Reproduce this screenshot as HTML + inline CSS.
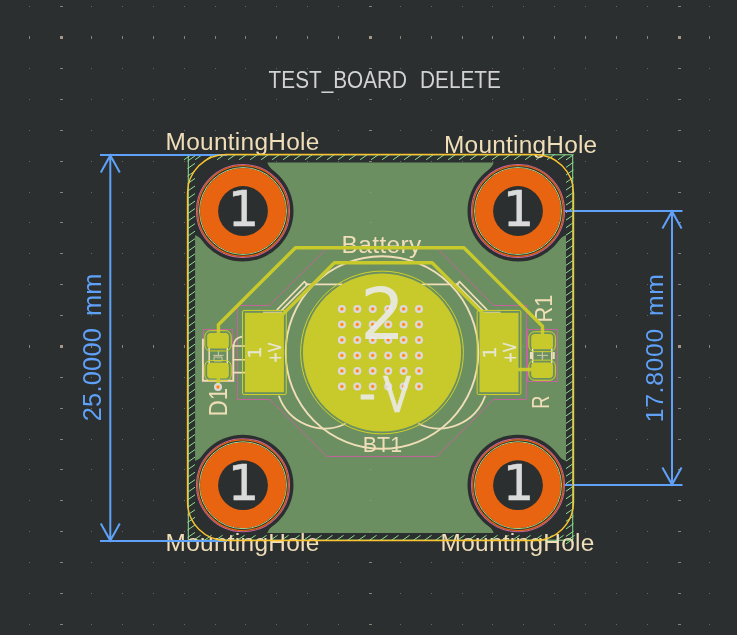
<!DOCTYPE html>
<html><head><meta charset="utf-8"><title>TEST_BOARD DELETE</title>
<style>html,body{margin:0;padding:0;background:#2b2f30;overflow:hidden}svg{display:block;will-change:transform}text{white-space:pre}</style>
</head><body>
<svg width="737" height="635" viewBox="0 0 737 635">
<rect width="737" height="635" fill="#2b2f30"/>
<g shape-rendering="crispEdges" opacity="1">
<path d="M29,6h1v1h-1zM29,68h1v1h-1zM29,99h1v1h-1zM29,130h1v1h-1zM29,161h1v1h-1zM29,192h1v1h-1zM29,222h1v1h-1zM29,253h1v1h-1zM29,284h1v1h-1zM29,315h1v1h-1zM29,377h1v1h-1zM29,408h1v1h-1zM29,439h1v1h-1zM29,469h1v1h-1zM29,500h1v1h-1zM29,531h1v1h-1zM29,562h1v1h-1zM29,593h1v1h-1zM29,624h1v1h-1zM91,6h1v1h-1zM91,68h1v1h-1zM91,99h1v1h-1zM91,130h1v1h-1zM91,161h1v1h-1zM91,192h1v1h-1zM91,222h1v1h-1zM91,253h1v1h-1zM91,284h1v1h-1zM91,315h1v1h-1zM91,377h1v1h-1zM91,408h1v1h-1zM91,439h1v1h-1zM91,469h1v1h-1zM91,500h1v1h-1zM91,531h1v1h-1zM91,562h1v1h-1zM91,593h1v1h-1zM91,624h1v1h-1zM122,6h1v1h-1zM122,68h1v1h-1zM122,99h1v1h-1zM122,130h1v1h-1zM122,161h1v1h-1zM122,192h1v1h-1zM122,222h1v1h-1zM122,253h1v1h-1zM122,284h1v1h-1zM122,315h1v1h-1zM122,377h1v1h-1zM122,408h1v1h-1zM122,439h1v1h-1zM122,469h1v1h-1zM122,500h1v1h-1zM122,531h1v1h-1zM122,562h1v1h-1zM122,593h1v1h-1zM122,624h1v1h-1zM153,6h1v1h-1zM153,68h1v1h-1zM153,99h1v1h-1zM153,130h1v1h-1zM153,161h1v1h-1zM153,192h1v1h-1zM153,222h1v1h-1zM153,253h1v1h-1zM153,284h1v1h-1zM153,315h1v1h-1zM153,377h1v1h-1zM153,408h1v1h-1zM153,439h1v1h-1zM153,469h1v1h-1zM153,500h1v1h-1zM153,531h1v1h-1zM153,562h1v1h-1zM153,593h1v1h-1zM153,624h1v1h-1zM184,6h1v1h-1zM184,68h1v1h-1zM184,99h1v1h-1zM184,130h1v1h-1zM184,161h1v1h-1zM184,192h1v1h-1zM184,222h1v1h-1zM184,253h1v1h-1zM184,284h1v1h-1zM184,315h1v1h-1zM184,377h1v1h-1zM184,408h1v1h-1zM184,439h1v1h-1zM184,469h1v1h-1zM184,500h1v1h-1zM184,531h1v1h-1zM184,562h1v1h-1zM184,593h1v1h-1zM184,624h1v1h-1zM215,6h1v1h-1zM215,68h1v1h-1zM215,99h1v1h-1zM215,130h1v1h-1zM215,161h1v1h-1zM215,192h1v1h-1zM215,222h1v1h-1zM215,253h1v1h-1zM215,284h1v1h-1zM215,315h1v1h-1zM215,377h1v1h-1zM215,408h1v1h-1zM215,439h1v1h-1zM215,469h1v1h-1zM215,500h1v1h-1zM215,531h1v1h-1zM215,562h1v1h-1zM215,593h1v1h-1zM215,624h1v1h-1zM245,6h1v1h-1zM245,68h1v1h-1zM245,99h1v1h-1zM245,130h1v1h-1zM245,161h1v1h-1zM245,192h1v1h-1zM245,222h1v1h-1zM245,253h1v1h-1zM245,284h1v1h-1zM245,315h1v1h-1zM245,377h1v1h-1zM245,408h1v1h-1zM245,439h1v1h-1zM245,469h1v1h-1zM245,500h1v1h-1zM245,531h1v1h-1zM245,562h1v1h-1zM245,593h1v1h-1zM245,624h1v1h-1zM276,6h1v1h-1zM276,68h1v1h-1zM276,99h1v1h-1zM276,130h1v1h-1zM276,161h1v1h-1zM276,192h1v1h-1zM276,222h1v1h-1zM276,253h1v1h-1zM276,284h1v1h-1zM276,315h1v1h-1zM276,377h1v1h-1zM276,408h1v1h-1zM276,439h1v1h-1zM276,469h1v1h-1zM276,500h1v1h-1zM276,531h1v1h-1zM276,562h1v1h-1zM276,593h1v1h-1zM276,624h1v1h-1zM307,6h1v1h-1zM307,68h1v1h-1zM307,99h1v1h-1zM307,130h1v1h-1zM307,161h1v1h-1zM307,192h1v1h-1zM307,222h1v1h-1zM307,253h1v1h-1zM307,284h1v1h-1zM307,315h1v1h-1zM307,377h1v1h-1zM307,408h1v1h-1zM307,439h1v1h-1zM307,469h1v1h-1zM307,500h1v1h-1zM307,531h1v1h-1zM307,562h1v1h-1zM307,593h1v1h-1zM307,624h1v1h-1zM338,6h1v1h-1zM338,68h1v1h-1zM338,99h1v1h-1zM338,130h1v1h-1zM338,161h1v1h-1zM338,192h1v1h-1zM338,222h1v1h-1zM338,253h1v1h-1zM338,284h1v1h-1zM338,315h1v1h-1zM338,377h1v1h-1zM338,408h1v1h-1zM338,439h1v1h-1zM338,469h1v1h-1zM338,500h1v1h-1zM338,531h1v1h-1zM338,562h1v1h-1zM338,593h1v1h-1zM338,624h1v1h-1zM400,6h1v1h-1zM400,68h1v1h-1zM400,99h1v1h-1zM400,130h1v1h-1zM400,161h1v1h-1zM400,192h1v1h-1zM400,222h1v1h-1zM400,253h1v1h-1zM400,284h1v1h-1zM400,315h1v1h-1zM400,377h1v1h-1zM400,408h1v1h-1zM400,439h1v1h-1zM400,469h1v1h-1zM400,500h1v1h-1zM400,531h1v1h-1zM400,562h1v1h-1zM400,593h1v1h-1zM400,624h1v1h-1zM431,6h1v1h-1zM431,68h1v1h-1zM431,99h1v1h-1zM431,130h1v1h-1zM431,161h1v1h-1zM431,192h1v1h-1zM431,222h1v1h-1zM431,253h1v1h-1zM431,284h1v1h-1zM431,315h1v1h-1zM431,377h1v1h-1zM431,408h1v1h-1zM431,439h1v1h-1zM431,469h1v1h-1zM431,500h1v1h-1zM431,531h1v1h-1zM431,562h1v1h-1zM431,593h1v1h-1zM431,624h1v1h-1zM462,6h1v1h-1zM462,68h1v1h-1zM462,99h1v1h-1zM462,130h1v1h-1zM462,161h1v1h-1zM462,192h1v1h-1zM462,222h1v1h-1zM462,253h1v1h-1zM462,284h1v1h-1zM462,315h1v1h-1zM462,377h1v1h-1zM462,408h1v1h-1zM462,439h1v1h-1zM462,469h1v1h-1zM462,500h1v1h-1zM462,531h1v1h-1zM462,562h1v1h-1zM462,593h1v1h-1zM462,624h1v1h-1zM492,6h1v1h-1zM492,68h1v1h-1zM492,99h1v1h-1zM492,130h1v1h-1zM492,161h1v1h-1zM492,192h1v1h-1zM492,222h1v1h-1zM492,253h1v1h-1zM492,284h1v1h-1zM492,315h1v1h-1zM492,377h1v1h-1zM492,408h1v1h-1zM492,439h1v1h-1zM492,469h1v1h-1zM492,500h1v1h-1zM492,531h1v1h-1zM492,562h1v1h-1zM492,593h1v1h-1zM492,624h1v1h-1zM523,6h1v1h-1zM523,68h1v1h-1zM523,99h1v1h-1zM523,130h1v1h-1zM523,161h1v1h-1zM523,192h1v1h-1zM523,222h1v1h-1zM523,253h1v1h-1zM523,284h1v1h-1zM523,315h1v1h-1zM523,377h1v1h-1zM523,408h1v1h-1zM523,439h1v1h-1zM523,469h1v1h-1zM523,500h1v1h-1zM523,531h1v1h-1zM523,562h1v1h-1zM523,593h1v1h-1zM523,624h1v1h-1zM554,6h1v1h-1zM554,68h1v1h-1zM554,99h1v1h-1zM554,130h1v1h-1zM554,161h1v1h-1zM554,192h1v1h-1zM554,222h1v1h-1zM554,253h1v1h-1zM554,284h1v1h-1zM554,315h1v1h-1zM554,377h1v1h-1zM554,408h1v1h-1zM554,439h1v1h-1zM554,469h1v1h-1zM554,500h1v1h-1zM554,531h1v1h-1zM554,562h1v1h-1zM554,593h1v1h-1zM554,624h1v1h-1zM585,6h1v1h-1zM585,68h1v1h-1zM585,99h1v1h-1zM585,130h1v1h-1zM585,161h1v1h-1zM585,192h1v1h-1zM585,222h1v1h-1zM585,253h1v1h-1zM585,284h1v1h-1zM585,315h1v1h-1zM585,377h1v1h-1zM585,408h1v1h-1zM585,439h1v1h-1zM585,469h1v1h-1zM585,500h1v1h-1zM585,531h1v1h-1zM585,562h1v1h-1zM585,593h1v1h-1zM585,624h1v1h-1zM616,6h1v1h-1zM616,68h1v1h-1zM616,99h1v1h-1zM616,130h1v1h-1zM616,161h1v1h-1zM616,192h1v1h-1zM616,222h1v1h-1zM616,253h1v1h-1zM616,284h1v1h-1zM616,315h1v1h-1zM616,377h1v1h-1zM616,408h1v1h-1zM616,439h1v1h-1zM616,469h1v1h-1zM616,500h1v1h-1zM616,531h1v1h-1zM616,562h1v1h-1zM616,593h1v1h-1zM616,624h1v1h-1zM647,6h1v1h-1zM647,68h1v1h-1zM647,99h1v1h-1zM647,130h1v1h-1zM647,161h1v1h-1zM647,192h1v1h-1zM647,222h1v1h-1zM647,253h1v1h-1zM647,284h1v1h-1zM647,315h1v1h-1zM647,377h1v1h-1zM647,408h1v1h-1zM647,439h1v1h-1zM647,469h1v1h-1zM647,500h1v1h-1zM647,531h1v1h-1zM647,562h1v1h-1zM647,593h1v1h-1zM647,624h1v1h-1zM709,6h1v1h-1zM709,68h1v1h-1zM709,99h1v1h-1zM709,130h1v1h-1zM709,161h1v1h-1zM709,192h1v1h-1zM709,222h1v1h-1zM709,253h1v1h-1zM709,284h1v1h-1zM709,315h1v1h-1zM709,377h1v1h-1zM709,408h1v1h-1zM709,439h1v1h-1zM709,469h1v1h-1zM709,500h1v1h-1zM709,531h1v1h-1zM709,562h1v1h-1zM709,593h1v1h-1zM709,624h1v1h-1z" fill="#b0a090" fill-opacity="0.38"/>
<path d="M29,36h1v3h-1zM29,345h1v3h-1zM60,6h3v1h-3zM60,68h3v1h-3zM60,99h3v1h-3zM60,130h3v1h-3zM60,161h3v1h-3zM60,192h3v1h-3zM60,222h3v1h-3zM60,253h3v1h-3zM60,284h3v1h-3zM60,315h3v1h-3zM60,377h3v1h-3zM60,408h3v1h-3zM60,439h3v1h-3zM60,469h3v1h-3zM60,500h3v1h-3zM60,531h3v1h-3zM60,562h3v1h-3zM60,593h3v1h-3zM60,624h3v1h-3zM91,36h1v3h-1zM91,345h1v3h-1zM122,36h1v3h-1zM122,345h1v3h-1zM153,36h1v3h-1zM153,345h1v3h-1zM184,36h1v3h-1zM184,345h1v3h-1zM215,36h1v3h-1zM215,345h1v3h-1zM245,36h1v3h-1zM245,345h1v3h-1zM276,36h1v3h-1zM276,345h1v3h-1zM307,36h1v3h-1zM307,345h1v3h-1zM338,36h1v3h-1zM338,345h1v3h-1zM369,6h3v1h-3zM369,68h3v1h-3zM369,99h3v1h-3zM369,130h3v1h-3zM369,161h3v1h-3zM369,192h3v1h-3zM369,222h3v1h-3zM369,253h3v1h-3zM369,284h3v1h-3zM369,315h3v1h-3zM369,377h3v1h-3zM369,408h3v1h-3zM369,439h3v1h-3zM369,469h3v1h-3zM369,500h3v1h-3zM369,531h3v1h-3zM369,562h3v1h-3zM369,593h3v1h-3zM369,624h3v1h-3zM400,36h1v3h-1zM400,345h1v3h-1zM431,36h1v3h-1zM431,345h1v3h-1zM462,36h1v3h-1zM462,345h1v3h-1zM492,36h1v3h-1zM492,345h1v3h-1zM523,36h1v3h-1zM523,345h1v3h-1zM554,36h1v3h-1zM554,345h1v3h-1zM585,36h1v3h-1zM585,345h1v3h-1zM616,36h1v3h-1zM616,345h1v3h-1zM647,36h1v3h-1zM647,345h1v3h-1zM678,6h3v1h-3zM678,68h3v1h-3zM678,99h3v1h-3zM678,130h3v1h-3zM678,161h3v1h-3zM678,192h3v1h-3zM678,222h3v1h-3zM678,253h3v1h-3zM678,284h3v1h-3zM678,315h3v1h-3zM678,377h3v1h-3zM678,408h3v1h-3zM678,439h3v1h-3zM678,469h3v1h-3zM678,500h3v1h-3zM678,531h3v1h-3zM678,562h3v1h-3zM678,593h3v1h-3zM678,624h3v1h-3zM709,36h1v3h-1zM709,345h1v3h-1z" fill="#b0a090" fill-opacity="0.6"/>
<path d="M60,36h3v3h-3zM60,345h3v3h-3zM369,36h3v3h-3zM369,345h3v3h-3zM678,36h3v3h-3zM678,345h3v3h-3z" fill="#b0a090" fill-opacity="0.85"/>
</g>
<rect x="195.1" y="162.6" width="370.9" height="370.5" rx="30.9" fill="#6b8f61"/>
<g shape-rendering="crispEdges" opacity="0.5">
<path d="M29,6h1v1h-1zM29,68h1v1h-1zM29,99h1v1h-1zM29,130h1v1h-1zM29,161h1v1h-1zM29,192h1v1h-1zM29,222h1v1h-1zM29,253h1v1h-1zM29,284h1v1h-1zM29,315h1v1h-1zM29,377h1v1h-1zM29,408h1v1h-1zM29,439h1v1h-1zM29,469h1v1h-1zM29,500h1v1h-1zM29,531h1v1h-1zM29,562h1v1h-1zM29,593h1v1h-1zM29,624h1v1h-1zM91,6h1v1h-1zM91,68h1v1h-1zM91,99h1v1h-1zM91,130h1v1h-1zM91,161h1v1h-1zM91,192h1v1h-1zM91,222h1v1h-1zM91,253h1v1h-1zM91,284h1v1h-1zM91,315h1v1h-1zM91,377h1v1h-1zM91,408h1v1h-1zM91,439h1v1h-1zM91,469h1v1h-1zM91,500h1v1h-1zM91,531h1v1h-1zM91,562h1v1h-1zM91,593h1v1h-1zM91,624h1v1h-1zM122,6h1v1h-1zM122,68h1v1h-1zM122,99h1v1h-1zM122,130h1v1h-1zM122,161h1v1h-1zM122,192h1v1h-1zM122,222h1v1h-1zM122,253h1v1h-1zM122,284h1v1h-1zM122,315h1v1h-1zM122,377h1v1h-1zM122,408h1v1h-1zM122,439h1v1h-1zM122,469h1v1h-1zM122,500h1v1h-1zM122,531h1v1h-1zM122,562h1v1h-1zM122,593h1v1h-1zM122,624h1v1h-1zM153,6h1v1h-1zM153,68h1v1h-1zM153,99h1v1h-1zM153,130h1v1h-1zM153,161h1v1h-1zM153,192h1v1h-1zM153,222h1v1h-1zM153,253h1v1h-1zM153,284h1v1h-1zM153,315h1v1h-1zM153,377h1v1h-1zM153,408h1v1h-1zM153,439h1v1h-1zM153,469h1v1h-1zM153,500h1v1h-1zM153,531h1v1h-1zM153,562h1v1h-1zM153,593h1v1h-1zM153,624h1v1h-1zM184,6h1v1h-1zM184,68h1v1h-1zM184,99h1v1h-1zM184,130h1v1h-1zM184,161h1v1h-1zM184,192h1v1h-1zM184,222h1v1h-1zM184,253h1v1h-1zM184,284h1v1h-1zM184,315h1v1h-1zM184,377h1v1h-1zM184,408h1v1h-1zM184,439h1v1h-1zM184,469h1v1h-1zM184,500h1v1h-1zM184,531h1v1h-1zM184,562h1v1h-1zM184,593h1v1h-1zM184,624h1v1h-1zM215,6h1v1h-1zM215,68h1v1h-1zM215,99h1v1h-1zM215,130h1v1h-1zM215,161h1v1h-1zM215,192h1v1h-1zM215,222h1v1h-1zM215,253h1v1h-1zM215,284h1v1h-1zM215,315h1v1h-1zM215,377h1v1h-1zM215,408h1v1h-1zM215,439h1v1h-1zM215,469h1v1h-1zM215,500h1v1h-1zM215,531h1v1h-1zM215,562h1v1h-1zM215,593h1v1h-1zM215,624h1v1h-1zM245,6h1v1h-1zM245,68h1v1h-1zM245,99h1v1h-1zM245,130h1v1h-1zM245,161h1v1h-1zM245,192h1v1h-1zM245,222h1v1h-1zM245,253h1v1h-1zM245,284h1v1h-1zM245,315h1v1h-1zM245,377h1v1h-1zM245,408h1v1h-1zM245,439h1v1h-1zM245,469h1v1h-1zM245,500h1v1h-1zM245,531h1v1h-1zM245,562h1v1h-1zM245,593h1v1h-1zM245,624h1v1h-1zM276,6h1v1h-1zM276,68h1v1h-1zM276,99h1v1h-1zM276,130h1v1h-1zM276,161h1v1h-1zM276,192h1v1h-1zM276,222h1v1h-1zM276,253h1v1h-1zM276,284h1v1h-1zM276,315h1v1h-1zM276,377h1v1h-1zM276,408h1v1h-1zM276,439h1v1h-1zM276,469h1v1h-1zM276,500h1v1h-1zM276,531h1v1h-1zM276,562h1v1h-1zM276,593h1v1h-1zM276,624h1v1h-1zM307,6h1v1h-1zM307,68h1v1h-1zM307,99h1v1h-1zM307,130h1v1h-1zM307,161h1v1h-1zM307,192h1v1h-1zM307,222h1v1h-1zM307,253h1v1h-1zM307,284h1v1h-1zM307,315h1v1h-1zM307,377h1v1h-1zM307,408h1v1h-1zM307,439h1v1h-1zM307,469h1v1h-1zM307,500h1v1h-1zM307,531h1v1h-1zM307,562h1v1h-1zM307,593h1v1h-1zM307,624h1v1h-1zM338,6h1v1h-1zM338,68h1v1h-1zM338,99h1v1h-1zM338,130h1v1h-1zM338,161h1v1h-1zM338,192h1v1h-1zM338,222h1v1h-1zM338,253h1v1h-1zM338,284h1v1h-1zM338,315h1v1h-1zM338,377h1v1h-1zM338,408h1v1h-1zM338,439h1v1h-1zM338,469h1v1h-1zM338,500h1v1h-1zM338,531h1v1h-1zM338,562h1v1h-1zM338,593h1v1h-1zM338,624h1v1h-1zM400,6h1v1h-1zM400,68h1v1h-1zM400,99h1v1h-1zM400,130h1v1h-1zM400,161h1v1h-1zM400,192h1v1h-1zM400,222h1v1h-1zM400,253h1v1h-1zM400,284h1v1h-1zM400,315h1v1h-1zM400,377h1v1h-1zM400,408h1v1h-1zM400,439h1v1h-1zM400,469h1v1h-1zM400,500h1v1h-1zM400,531h1v1h-1zM400,562h1v1h-1zM400,593h1v1h-1zM400,624h1v1h-1zM431,6h1v1h-1zM431,68h1v1h-1zM431,99h1v1h-1zM431,130h1v1h-1zM431,161h1v1h-1zM431,192h1v1h-1zM431,222h1v1h-1zM431,253h1v1h-1zM431,284h1v1h-1zM431,315h1v1h-1zM431,377h1v1h-1zM431,408h1v1h-1zM431,439h1v1h-1zM431,469h1v1h-1zM431,500h1v1h-1zM431,531h1v1h-1zM431,562h1v1h-1zM431,593h1v1h-1zM431,624h1v1h-1zM462,6h1v1h-1zM462,68h1v1h-1zM462,99h1v1h-1zM462,130h1v1h-1zM462,161h1v1h-1zM462,192h1v1h-1zM462,222h1v1h-1zM462,253h1v1h-1zM462,284h1v1h-1zM462,315h1v1h-1zM462,377h1v1h-1zM462,408h1v1h-1zM462,439h1v1h-1zM462,469h1v1h-1zM462,500h1v1h-1zM462,531h1v1h-1zM462,562h1v1h-1zM462,593h1v1h-1zM462,624h1v1h-1zM492,6h1v1h-1zM492,68h1v1h-1zM492,99h1v1h-1zM492,130h1v1h-1zM492,161h1v1h-1zM492,192h1v1h-1zM492,222h1v1h-1zM492,253h1v1h-1zM492,284h1v1h-1zM492,315h1v1h-1zM492,377h1v1h-1zM492,408h1v1h-1zM492,439h1v1h-1zM492,469h1v1h-1zM492,500h1v1h-1zM492,531h1v1h-1zM492,562h1v1h-1zM492,593h1v1h-1zM492,624h1v1h-1zM523,6h1v1h-1zM523,68h1v1h-1zM523,99h1v1h-1zM523,130h1v1h-1zM523,161h1v1h-1zM523,192h1v1h-1zM523,222h1v1h-1zM523,253h1v1h-1zM523,284h1v1h-1zM523,315h1v1h-1zM523,377h1v1h-1zM523,408h1v1h-1zM523,439h1v1h-1zM523,469h1v1h-1zM523,500h1v1h-1zM523,531h1v1h-1zM523,562h1v1h-1zM523,593h1v1h-1zM523,624h1v1h-1zM554,6h1v1h-1zM554,68h1v1h-1zM554,99h1v1h-1zM554,130h1v1h-1zM554,161h1v1h-1zM554,192h1v1h-1zM554,222h1v1h-1zM554,253h1v1h-1zM554,284h1v1h-1zM554,315h1v1h-1zM554,377h1v1h-1zM554,408h1v1h-1zM554,439h1v1h-1zM554,469h1v1h-1zM554,500h1v1h-1zM554,531h1v1h-1zM554,562h1v1h-1zM554,593h1v1h-1zM554,624h1v1h-1zM585,6h1v1h-1zM585,68h1v1h-1zM585,99h1v1h-1zM585,130h1v1h-1zM585,161h1v1h-1zM585,192h1v1h-1zM585,222h1v1h-1zM585,253h1v1h-1zM585,284h1v1h-1zM585,315h1v1h-1zM585,377h1v1h-1zM585,408h1v1h-1zM585,439h1v1h-1zM585,469h1v1h-1zM585,500h1v1h-1zM585,531h1v1h-1zM585,562h1v1h-1zM585,593h1v1h-1zM585,624h1v1h-1zM616,6h1v1h-1zM616,68h1v1h-1zM616,99h1v1h-1zM616,130h1v1h-1zM616,161h1v1h-1zM616,192h1v1h-1zM616,222h1v1h-1zM616,253h1v1h-1zM616,284h1v1h-1zM616,315h1v1h-1zM616,377h1v1h-1zM616,408h1v1h-1zM616,439h1v1h-1zM616,469h1v1h-1zM616,500h1v1h-1zM616,531h1v1h-1zM616,562h1v1h-1zM616,593h1v1h-1zM616,624h1v1h-1zM647,6h1v1h-1zM647,68h1v1h-1zM647,99h1v1h-1zM647,130h1v1h-1zM647,161h1v1h-1zM647,192h1v1h-1zM647,222h1v1h-1zM647,253h1v1h-1zM647,284h1v1h-1zM647,315h1v1h-1zM647,377h1v1h-1zM647,408h1v1h-1zM647,439h1v1h-1zM647,469h1v1h-1zM647,500h1v1h-1zM647,531h1v1h-1zM647,562h1v1h-1zM647,593h1v1h-1zM647,624h1v1h-1zM709,6h1v1h-1zM709,68h1v1h-1zM709,99h1v1h-1zM709,130h1v1h-1zM709,161h1v1h-1zM709,192h1v1h-1zM709,222h1v1h-1zM709,253h1v1h-1zM709,284h1v1h-1zM709,315h1v1h-1zM709,377h1v1h-1zM709,408h1v1h-1zM709,439h1v1h-1zM709,469h1v1h-1zM709,500h1v1h-1zM709,531h1v1h-1zM709,562h1v1h-1zM709,593h1v1h-1zM709,624h1v1h-1z" fill="#b0a090" fill-opacity="0.38"/>
<path d="M29,36h1v3h-1zM29,345h1v3h-1zM60,6h3v1h-3zM60,68h3v1h-3zM60,99h3v1h-3zM60,130h3v1h-3zM60,161h3v1h-3zM60,192h3v1h-3zM60,222h3v1h-3zM60,253h3v1h-3zM60,284h3v1h-3zM60,315h3v1h-3zM60,377h3v1h-3zM60,408h3v1h-3zM60,439h3v1h-3zM60,469h3v1h-3zM60,500h3v1h-3zM60,531h3v1h-3zM60,562h3v1h-3zM60,593h3v1h-3zM60,624h3v1h-3zM91,36h1v3h-1zM91,345h1v3h-1zM122,36h1v3h-1zM122,345h1v3h-1zM153,36h1v3h-1zM153,345h1v3h-1zM184,36h1v3h-1zM184,345h1v3h-1zM215,36h1v3h-1zM215,345h1v3h-1zM245,36h1v3h-1zM245,345h1v3h-1zM276,36h1v3h-1zM276,345h1v3h-1zM307,36h1v3h-1zM307,345h1v3h-1zM338,36h1v3h-1zM338,345h1v3h-1zM369,6h3v1h-3zM369,68h3v1h-3zM369,99h3v1h-3zM369,130h3v1h-3zM369,161h3v1h-3zM369,192h3v1h-3zM369,222h3v1h-3zM369,253h3v1h-3zM369,284h3v1h-3zM369,315h3v1h-3zM369,377h3v1h-3zM369,408h3v1h-3zM369,439h3v1h-3zM369,469h3v1h-3zM369,500h3v1h-3zM369,531h3v1h-3zM369,562h3v1h-3zM369,593h3v1h-3zM369,624h3v1h-3zM400,36h1v3h-1zM400,345h1v3h-1zM431,36h1v3h-1zM431,345h1v3h-1zM462,36h1v3h-1zM462,345h1v3h-1zM492,36h1v3h-1zM492,345h1v3h-1zM523,36h1v3h-1zM523,345h1v3h-1zM554,36h1v3h-1zM554,345h1v3h-1zM585,36h1v3h-1zM585,345h1v3h-1zM616,36h1v3h-1zM616,345h1v3h-1zM647,36h1v3h-1zM647,345h1v3h-1zM678,6h3v1h-3zM678,68h3v1h-3zM678,99h3v1h-3zM678,130h3v1h-3zM678,161h3v1h-3zM678,192h3v1h-3zM678,222h3v1h-3zM678,253h3v1h-3zM678,284h3v1h-3zM678,315h3v1h-3zM678,377h3v1h-3zM678,408h3v1h-3zM678,439h3v1h-3zM678,469h3v1h-3zM678,500h3v1h-3zM678,531h3v1h-3zM678,562h3v1h-3zM678,593h3v1h-3zM678,624h3v1h-3zM709,36h1v3h-1zM709,345h1v3h-1z" fill="#b0a090" fill-opacity="0.6"/>
<path d="M60,36h3v3h-3zM60,345h3v3h-3zM369,36h3v3h-3zM369,345h3v3h-3zM678,36h3v3h-3zM678,345h3v3h-3z" fill="#b0a090" fill-opacity="0.85"/>
</g>
<rect x="193.1" y="160.6" width="49.900000000000006" height="50.400000000000006" fill="#2b2f30"/>
<circle cx="243.0" cy="211.0" r="50.5" fill="#2b2f30"/>
<path d="M255.0,161.6 L267.3,161.6 L267.3,162.6 Q268.5,166.6 274.0,171.6 L263.0,171.6Z" fill="#2b2f30"/>
<path d="M194.1,223.0 L194.1,235.3 L195.1,235.3 Q199.1,236.5 204.1,242.0 L204.1,231.0Z" fill="#2b2f30"/>
<rect x="518.0" y="160.6" width="50.0" height="50.400000000000006" fill="#2b2f30"/>
<circle cx="518.0" cy="211.0" r="50.5" fill="#2b2f30"/>
<path d="M506.0,161.6 L493.7,161.6 L493.7,162.6 Q492.5,166.6 487.0,171.6 L498.0,171.6Z" fill="#2b2f30"/>
<path d="M567.0,223.0 L567.0,235.3 L566.0,235.3 Q562.0,236.5 557.0,242.0 L557.0,231.0Z" fill="#2b2f30"/>
<rect x="193.1" y="485.2" width="49.900000000000006" height="49.900000000000034" fill="#2b2f30"/>
<circle cx="243.0" cy="485.2" r="50.5" fill="#2b2f30"/>
<path d="M255.0,534.1 L267.3,534.1 L267.3,533.1 Q268.5,529.1 274.0,524.1 L263.0,524.1Z" fill="#2b2f30"/>
<path d="M194.1,473.2 L194.1,460.9 L195.1,460.9 Q199.1,459.7 204.1,454.2 L204.1,465.2Z" fill="#2b2f30"/>
<rect x="518.0" y="485.2" width="50.0" height="49.900000000000034" fill="#2b2f30"/>
<circle cx="518.0" cy="485.2" r="50.5" fill="#2b2f30"/>
<path d="M506.0,534.1 L493.7,534.1 L493.7,533.1 Q492.5,529.1 487.0,524.1 L498.0,524.1Z" fill="#2b2f30"/>
<path d="M567.0,473.2 L567.0,460.9 L566.0,460.9 Q562.0,459.7 557.0,454.2 L557.0,465.2Z" fill="#2b2f30"/>
<g stroke="#8fe08f" stroke-width="1" fill="none">
<rect x="188.3" y="154.8" width="384.4" height="385.4"/>
<path d="M187.5,161.1l7.5,-5.2M187.5,168.6l7.5,-5.2M187.5,176.2l7.5,-5.2M187.5,183.7l7.5,-5.2M187.5,191.2l7.5,-5.2M187.5,198.8l7.5,-5.2M187.5,206.3l7.5,-5.2M187.5,213.8l7.5,-5.2M187.5,221.3l7.5,-5.2M187.5,228.9l7.5,-5.2M187.5,236.4l7.5,-5.2M187.5,243.9l7.5,-5.2M187.5,251.5l7.5,-5.2M187.5,259.0l7.5,-5.2M187.5,266.5l7.5,-5.2M187.5,274.1l7.5,-5.2M187.5,281.6l7.5,-5.2M187.5,289.1l7.5,-5.2M187.5,296.6l7.5,-5.2M187.5,304.2l7.5,-5.2M187.5,311.7l7.5,-5.2M187.5,319.2l7.5,-5.2M187.5,326.8l7.5,-5.2M187.5,334.3l7.5,-5.2M187.5,341.8l7.5,-5.2M187.5,349.4l7.5,-5.2M187.5,356.9l7.5,-5.2M187.5,364.4l7.5,-5.2M187.5,371.9l7.5,-5.2M187.5,379.5l7.5,-5.2M187.5,387.0l7.5,-5.2M187.5,394.5l7.5,-5.2M187.5,402.1l7.5,-5.2M187.5,409.6l7.5,-5.2M187.5,417.1l7.5,-5.2M187.5,424.7l7.5,-5.2M187.5,432.2l7.5,-5.2M187.5,439.7l7.5,-5.2M187.5,447.2l7.5,-5.2M187.5,454.8l7.5,-5.2M187.5,462.3l7.5,-5.2M187.5,469.8l7.5,-5.2M187.5,477.4l7.5,-5.2M187.5,484.9l7.5,-5.2M187.5,492.4l7.5,-5.2M187.5,500.0l7.5,-5.2M187.5,507.5l7.5,-5.2M187.5,515.0l7.5,-5.2M187.5,522.5l7.5,-5.2M187.5,530.1l7.5,-5.2M187.5,537.6l7.5,-5.2M573.5,154.7l-7.5,5.2M573.5,162.2l-7.5,5.2M573.5,169.8l-7.5,5.2M573.5,177.3l-7.5,5.2M573.5,184.8l-7.5,5.2M573.5,192.4l-7.5,5.2M573.5,199.9l-7.5,5.2M573.5,207.4l-7.5,5.2M573.5,214.9l-7.5,5.2M573.5,222.5l-7.5,5.2M573.5,230.0l-7.5,5.2M573.5,237.5l-7.5,5.2M573.5,245.1l-7.5,5.2M573.5,252.6l-7.5,5.2M573.5,260.1l-7.5,5.2M573.5,267.7l-7.5,5.2M573.5,275.2l-7.5,5.2M573.5,282.7l-7.5,5.2M573.5,290.2l-7.5,5.2M573.5,297.8l-7.5,5.2M573.5,305.3l-7.5,5.2M573.5,312.8l-7.5,5.2M573.5,320.4l-7.5,5.2M573.5,327.9l-7.5,5.2M573.5,335.4l-7.5,5.2M573.5,343.0l-7.5,5.2M573.5,350.5l-7.5,5.2M573.5,358.0l-7.5,5.2M573.5,365.5l-7.5,5.2M573.5,373.1l-7.5,5.2M573.5,380.6l-7.5,5.2M573.5,388.1l-7.5,5.2M573.5,395.7l-7.5,5.2M573.5,403.2l-7.5,5.2M573.5,410.7l-7.5,5.2M573.5,418.2l-7.5,5.2M573.5,425.8l-7.5,5.2M573.5,433.3l-7.5,5.2M573.5,440.8l-7.5,5.2M573.5,448.4l-7.5,5.2M573.5,455.9l-7.5,5.2M573.5,463.4l-7.5,5.2M573.5,471.0l-7.5,5.2M573.5,478.5l-7.5,5.2M573.5,486.0l-7.5,5.2M573.5,493.6l-7.5,5.2M573.5,501.1l-7.5,5.2M573.5,508.6l-7.5,5.2M573.5,516.1l-7.5,5.2M573.5,523.7l-7.5,5.2M573.5,531.2l-7.5,5.2M573.5,538.7l-7.5,5.2M191.6,154.5l-7.5,5.2M202.6,154.5l-7.5,5.2M213.6,154.5l-7.5,5.2M224.6,154.5l-7.5,5.2M235.6,154.5l-7.5,5.2M246.6,154.5l-7.5,5.2M257.6,154.5l-7.5,5.2M268.6,154.5l-7.5,5.2M279.6,154.5l-7.5,5.2M290.6,154.5l-7.5,5.2M301.6,154.5l-7.5,5.2M312.6,154.5l-7.5,5.2M323.6,154.5l-7.5,5.2M334.6,154.5l-7.5,5.2M345.6,154.5l-7.5,5.2M356.6,154.5l-7.5,5.2M367.6,154.5l-7.5,5.2M378.6,154.5l-7.5,5.2M389.6,154.5l-7.5,5.2M400.6,154.5l-7.5,5.2M411.6,154.5l-7.5,5.2M422.6,154.5l-7.5,5.2M433.6,154.5l-7.5,5.2M444.6,154.5l-7.5,5.2M455.6,154.5l-7.5,5.2M466.6,154.5l-7.5,5.2M477.6,154.5l-7.5,5.2M488.6,154.5l-7.5,5.2M499.6,154.5l-7.5,5.2M510.6,154.5l-7.5,5.2M521.6,154.5l-7.5,5.2M532.6,154.5l-7.5,5.2M543.6,154.5l-7.5,5.2M554.6,154.5l-7.5,5.2M565.6,154.5l-7.5,5.2M193.1,540.5l7.5,-5.2M204.1,540.5l7.5,-5.2M215.1,540.5l7.5,-5.2M226.1,540.5l7.5,-5.2M237.1,540.5l7.5,-5.2M248.1,540.5l7.5,-5.2M259.1,540.5l7.5,-5.2M270.1,540.5l7.5,-5.2M281.1,540.5l7.5,-5.2M292.1,540.5l7.5,-5.2M303.1,540.5l7.5,-5.2M314.1,540.5l7.5,-5.2M325.1,540.5l7.5,-5.2M336.1,540.5l7.5,-5.2M347.1,540.5l7.5,-5.2M358.1,540.5l7.5,-5.2M369.1,540.5l7.5,-5.2M380.1,540.5l7.5,-5.2M391.1,540.5l7.5,-5.2M402.1,540.5l7.5,-5.2M413.1,540.5l7.5,-5.2M424.1,540.5l7.5,-5.2M435.1,540.5l7.5,-5.2M446.1,540.5l7.5,-5.2M457.1,540.5l7.5,-5.2M468.1,540.5l7.5,-5.2M479.1,540.5l7.5,-5.2M490.1,540.5l7.5,-5.2M501.1,540.5l7.5,-5.2M512.1,540.5l7.5,-5.2M523.1,540.5l7.5,-5.2M534.1,540.5l7.5,-5.2M545.1,540.5l7.5,-5.2M556.1,540.5l7.5,-5.2M567.1,540.5l7.5,-5.2"/>
</g>
<g stroke="#c4649c" stroke-width="1" fill="none">
<path d="M237.5,305.5 L269.6,305.5 L326.6,248.6 L437.4,248.6 L493.6,305.5 L526.5,305.5 L526.5,399.5 L493.6,399.5 L437.0,456.4 L327.0,456.4 L270.0,399.5 L237.5,399.5Z"/>
<rect x="203.5" y="329.5" width="29" height="52"/>
<rect x="527.5" y="329.5" width="30" height="52"/>
</g>
<g stroke="#f0deb8" stroke-width="1.7" fill="none" stroke-linecap="round">
<circle cx="382.0" cy="352.5" r="96.3" stroke-width="1.9"/>
<path d="M306,284.3H342 M422,284.3H458"/>
<path d="M486.8,309.6L459.6,281.6L456.6,284.6L482.4,310.4"/>
<path d="M485.0,396.4A48.7,48.7 0 0 1 419.0,424.0"/>
<path d="M277.2,309.6L304.4,281.6L307.4,284.6L281.6,310.4"/>
<path d="M279.0,396.4A48.7,48.7 0 0 0 345.0,424.0"/>
<path d="M202.9,339.5V380.8H233.3V345" stroke-width="1.9"/>
<path d="M233.3,346H245 M233.3,359.8H245 M233.3,372.6H245 M233.6,346Q234,338 242,336.6" stroke-width="1.6"/>
<path d="M531,352V359 M553.6,352V359" stroke-width="2.2" stroke-linecap="butt"/>
</g>
<g stroke="#f0deb8" stroke-width="1.5" fill="none">
<path d="M209.2,347V364 M227.3,347V364 M532.7,348V363.5 M551.7,348V363.5"/>
<path d="M263,312.3H282 M482,312.3H500.5" stroke-width="1.1"/>
</g>
<g stroke="#f0deb8" stroke-width="0.9" fill="none" opacity="0.85">
<path d="M213.3,355.4H223.6 M218.4,351V355.4 M214,357H222V361H214Z"/>
<path d="M537,355.4H548 M542.4,351V360"/>
</g>
<text transform="translate(343.50,252.70) scale(1.0000,1) translate(-2,0)" font-family='"Liberation Sans", "DejaVu Sans", sans-serif' font-size="24.42" font-weight="normal" fill="#f0deb8" letter-spacing="0.417">Battery</text>
<text transform="translate(364.70,452.30) scale(0.9500,1) translate(-2,0)" font-family='"Liberation Sans", "DejaVu Sans", sans-serif' font-size="22.53" font-weight="normal" fill="#f0deb8">BT1</text>
<text transform="translate(227.30,414.50) rotate(-90) scale(0.8690,1) translate(-2,0)" font-family='"Liberation Sans", "DejaVu Sans", sans-serif' font-size="25.44" font-weight="normal" fill="#f0deb8">D1</text>
<text transform="translate(552.00,320.70) rotate(-90) scale(0.8821,1) translate(-2,0)" font-family='"Liberation Sans", "DejaVu Sans", sans-serif' font-size="24.71" font-weight="normal" fill="#f0deb8">R1</text>
<text transform="translate(549.00,407.20) rotate(-90) scale(0.7643,1) translate(-2,0)" font-family='"Liberation Sans", "DejaVu Sans", sans-serif' font-size="23.84" font-weight="normal" fill="#f0deb8">R</text>
<text transform="translate(167.60,150.40) scale(1.0000,1) translate(-2,0)" font-family='"Liberation Sans", "DejaVu Sans", sans-serif' font-size="24.42" font-weight="normal" fill="#f0deb8" letter-spacing="0.282">MountingHole</text>
<text transform="translate(446.00,153.10) scale(1.0000,1) translate(-2,0)" font-family='"Liberation Sans", "DejaVu Sans", sans-serif' font-size="24.42" font-weight="normal" fill="#f0deb8" letter-spacing="0.236">MountingHole</text>
<text transform="translate(167.60,551.00) scale(1.0000,1) translate(-2,0)" font-family='"Liberation Sans", "DejaVu Sans", sans-serif' font-size="24.42" font-weight="normal" fill="#f0deb8" letter-spacing="0.282">MountingHole</text>
<text transform="translate(442.60,551.00) scale(1.0000,1) translate(-2,0)" font-family='"Liberation Sans", "DejaVu Sans", sans-serif' font-size="24.42" font-weight="normal" fill="#f0deb8" letter-spacing="0.282">MountingHole</text>
<text transform="translate(269.50,87.80) scale(0.8934,1) translate(-1,0)" font-family='"Liberation Sans", "DejaVu Sans", sans-serif' font-size="23.26" font-weight="normal" fill="#d2d2d2" word-spacing="8">TEST_BOARD DELETE</text>
<g stroke="#c8ca2c" stroke-width="3.4" fill="none" stroke-linejoin="round" stroke-linecap="round">
<path d="M218.4,341V324.8L295.5,247.7H463.9L542.5,326.3V341"/>
<path d="M268.5,328.6L334.4,262.7H432.1L495,325.6"/>
<path d="M218.3,372V387"/>
<path d="M515,369.5H540"/>
</g>
<g stroke="#d0d226" stroke-width="1" fill="none">
<circle cx="382.0" cy="352.5" r="81.4"/>
<rect x="242.54999999999998" y="310.45" width="43.7" height="84.10000000000001" rx="1.5"/>
<rect x="477.15" y="310.45" width="43.7" height="84.10000000000001" rx="1.5"/>
<rect x="204.80" y="330.65" width="26.4" height="20.3" rx="5.8"/>
<rect x="204.80" y="360.45" width="26.4" height="20.3" rx="5.8"/>
<rect x="528.85" y="331.75" width="26.5" height="19.9" rx="5.8"/>
<rect x="528.85" y="360.15" width="26.5" height="20.1" rx="5.8"/>
</g>
<g fill="#c8ca2c">
<circle cx="382.0" cy="352.5" r="79.1"/>
<rect x="244.89999999999998" y="312.8" width="39" height="79.4"/>
<rect x="479.5" y="312.8" width="39" height="79.4"/>
<rect x="207.15" y="333.00" width="21.7" height="15.6" rx="3.6"/>
<rect x="207.15" y="362.80" width="21.7" height="15.6" rx="3.6"/>
<rect x="531.20" y="334.10" width="21.8" height="15.2" rx="3.6"/>
<rect x="531.20" y="362.50" width="21.8" height="15.4" rx="3.6"/>
</g>
<g>
<circle cx="341.9" cy="308.9" r="4" fill="#dadade"/><circle cx="341.9" cy="308.9" r="1.9" fill="#ffa850"/><circle cx="341.9" cy="308.9" r="1.2" fill="#ff8010"/>
<circle cx="341.9" cy="324.4" r="4" fill="#dadade"/><circle cx="341.9" cy="324.4" r="1.9" fill="#ffa850"/><circle cx="341.9" cy="324.4" r="1.2" fill="#ff8010"/>
<circle cx="341.9" cy="339.9" r="4" fill="#dadade"/><circle cx="341.9" cy="339.9" r="1.9" fill="#ffa850"/><circle cx="341.9" cy="339.9" r="1.2" fill="#ff8010"/>
<circle cx="341.9" cy="355.4" r="4" fill="#dadade"/><circle cx="341.9" cy="355.4" r="1.9" fill="#ffa850"/><circle cx="341.9" cy="355.4" r="1.2" fill="#ff8010"/>
<circle cx="341.9" cy="370.9" r="4" fill="#dadade"/><circle cx="341.9" cy="370.9" r="1.9" fill="#ffa850"/><circle cx="341.9" cy="370.9" r="1.2" fill="#ff8010"/>
<circle cx="341.9" cy="386.4" r="4" fill="#dadade"/><circle cx="341.9" cy="386.4" r="1.9" fill="#ffa850"/><circle cx="341.9" cy="386.4" r="1.2" fill="#ff8010"/>
<circle cx="357.3" cy="308.9" r="4" fill="#dadade"/><circle cx="357.3" cy="308.9" r="1.9" fill="#ffa850"/><circle cx="357.3" cy="308.9" r="1.2" fill="#ff8010"/>
<circle cx="357.3" cy="324.4" r="4" fill="#dadade"/><circle cx="357.3" cy="324.4" r="1.9" fill="#ffa850"/><circle cx="357.3" cy="324.4" r="1.2" fill="#ff8010"/>
<circle cx="357.3" cy="339.9" r="4" fill="#dadade"/><circle cx="357.3" cy="339.9" r="1.9" fill="#ffa850"/><circle cx="357.3" cy="339.9" r="1.2" fill="#ff8010"/>
<circle cx="357.3" cy="355.4" r="4" fill="#dadade"/><circle cx="357.3" cy="355.4" r="1.9" fill="#ffa850"/><circle cx="357.3" cy="355.4" r="1.2" fill="#ff8010"/>
<circle cx="357.3" cy="370.9" r="4" fill="#dadade"/><circle cx="357.3" cy="370.9" r="1.9" fill="#ffa850"/><circle cx="357.3" cy="370.9" r="1.2" fill="#ff8010"/>
<circle cx="357.3" cy="386.4" r="4" fill="#dadade"/><circle cx="357.3" cy="386.4" r="1.9" fill="#ffa850"/><circle cx="357.3" cy="386.4" r="1.2" fill="#ff8010"/>
<circle cx="372.7" cy="308.9" r="4" fill="#dadade"/><circle cx="372.7" cy="308.9" r="1.9" fill="#ffa850"/><circle cx="372.7" cy="308.9" r="1.2" fill="#ff8010"/>
<circle cx="372.7" cy="324.4" r="4" fill="#dadade"/><circle cx="372.7" cy="324.4" r="1.9" fill="#ffa850"/><circle cx="372.7" cy="324.4" r="1.2" fill="#ff8010"/>
<circle cx="372.7" cy="339.9" r="4" fill="#dadade"/><circle cx="372.7" cy="339.9" r="1.9" fill="#ffa850"/><circle cx="372.7" cy="339.9" r="1.2" fill="#ff8010"/>
<circle cx="372.7" cy="355.4" r="4" fill="#dadade"/><circle cx="372.7" cy="355.4" r="1.9" fill="#ffa850"/><circle cx="372.7" cy="355.4" r="1.2" fill="#ff8010"/>
<circle cx="372.7" cy="370.9" r="4" fill="#dadade"/><circle cx="372.7" cy="370.9" r="1.9" fill="#ffa850"/><circle cx="372.7" cy="370.9" r="1.2" fill="#ff8010"/>
<circle cx="372.7" cy="386.4" r="4" fill="#dadade"/><circle cx="372.7" cy="386.4" r="1.9" fill="#ffa850"/><circle cx="372.7" cy="386.4" r="1.2" fill="#ff8010"/>
<circle cx="388.2" cy="308.9" r="4" fill="#dadade"/><circle cx="388.2" cy="308.9" r="1.9" fill="#ffa850"/><circle cx="388.2" cy="308.9" r="1.2" fill="#ff8010"/>
<circle cx="388.2" cy="324.4" r="4" fill="#dadade"/><circle cx="388.2" cy="324.4" r="1.9" fill="#ffa850"/><circle cx="388.2" cy="324.4" r="1.2" fill="#ff8010"/>
<circle cx="388.2" cy="339.9" r="4" fill="#dadade"/><circle cx="388.2" cy="339.9" r="1.9" fill="#ffa850"/><circle cx="388.2" cy="339.9" r="1.2" fill="#ff8010"/>
<circle cx="388.2" cy="355.4" r="4" fill="#dadade"/><circle cx="388.2" cy="355.4" r="1.9" fill="#ffa850"/><circle cx="388.2" cy="355.4" r="1.2" fill="#ff8010"/>
<circle cx="388.2" cy="370.9" r="4" fill="#dadade"/><circle cx="388.2" cy="370.9" r="1.9" fill="#ffa850"/><circle cx="388.2" cy="370.9" r="1.2" fill="#ff8010"/>
<circle cx="388.2" cy="386.4" r="4" fill="#dadade"/><circle cx="388.2" cy="386.4" r="1.9" fill="#ffa850"/><circle cx="388.2" cy="386.4" r="1.2" fill="#ff8010"/>
<circle cx="403.6" cy="308.9" r="4" fill="#dadade"/><circle cx="403.6" cy="308.9" r="1.9" fill="#ffa850"/><circle cx="403.6" cy="308.9" r="1.2" fill="#ff8010"/>
<circle cx="403.6" cy="324.4" r="4" fill="#dadade"/><circle cx="403.6" cy="324.4" r="1.9" fill="#ffa850"/><circle cx="403.6" cy="324.4" r="1.2" fill="#ff8010"/>
<circle cx="403.6" cy="339.9" r="4" fill="#dadade"/><circle cx="403.6" cy="339.9" r="1.9" fill="#ffa850"/><circle cx="403.6" cy="339.9" r="1.2" fill="#ff8010"/>
<circle cx="403.6" cy="355.4" r="4" fill="#dadade"/><circle cx="403.6" cy="355.4" r="1.9" fill="#ffa850"/><circle cx="403.6" cy="355.4" r="1.2" fill="#ff8010"/>
<circle cx="403.6" cy="370.9" r="4" fill="#dadade"/><circle cx="403.6" cy="370.9" r="1.9" fill="#ffa850"/><circle cx="403.6" cy="370.9" r="1.2" fill="#ff8010"/>
<circle cx="403.6" cy="386.4" r="4" fill="#dadade"/><circle cx="403.6" cy="386.4" r="1.9" fill="#ffa850"/><circle cx="403.6" cy="386.4" r="1.2" fill="#ff8010"/>
<circle cx="419.0" cy="308.9" r="4" fill="#dadade"/><circle cx="419.0" cy="308.9" r="1.9" fill="#ffa850"/><circle cx="419.0" cy="308.9" r="1.2" fill="#ff8010"/>
<circle cx="419.0" cy="324.4" r="4" fill="#dadade"/><circle cx="419.0" cy="324.4" r="1.9" fill="#ffa850"/><circle cx="419.0" cy="324.4" r="1.2" fill="#ff8010"/>
<circle cx="419.0" cy="339.9" r="4" fill="#dadade"/><circle cx="419.0" cy="339.9" r="1.9" fill="#ffa850"/><circle cx="419.0" cy="339.9" r="1.2" fill="#ff8010"/>
<circle cx="419.0" cy="355.4" r="4" fill="#dadade"/><circle cx="419.0" cy="355.4" r="1.9" fill="#ffa850"/><circle cx="419.0" cy="355.4" r="1.2" fill="#ff8010"/>
<circle cx="419.0" cy="370.9" r="4" fill="#dadade"/><circle cx="419.0" cy="370.9" r="1.9" fill="#ffa850"/><circle cx="419.0" cy="370.9" r="1.2" fill="#ff8010"/>
<circle cx="419.0" cy="386.4" r="4" fill="#dadade"/><circle cx="419.0" cy="386.4" r="1.9" fill="#ffa850"/><circle cx="419.0" cy="386.4" r="1.2" fill="#ff8010"/>
<circle cx="218.0" cy="387.0" r="4" fill="#dadade"/><circle cx="218.0" cy="387.0" r="1.9" fill="#ffa850"/><circle cx="218.0" cy="387.0" r="1.2" fill="#ff8010"/>
</g>
<text transform="translate(365.20,338.70) scale(0.9794,1) translate(-5,0)" font-family='"DejaVu Sans", "Liberation Sans", sans-serif' font-size="71.88" font-weight="normal" fill="#ebebee" opacity="0.88">2</text>
<text transform="translate(360.80,410.60) scale(0.9429,1) translate(-2,0)" font-family='"DejaVu Sans", "Liberation Sans", sans-serif' font-size="49.25" font-weight="normal" fill="#ebebee" stroke="#ebebee" stroke-width="1.2" stroke-linejoin="round" opacity="0.88">-</text>
<text transform="translate(382.90,411.90) scale(0.8333,1) translate(0,0)" font-family='"DejaVu Sans", "Liberation Sans", sans-serif' font-size="49.25" font-weight="normal" fill="#ebebee" stroke="#ebebee" stroke-width="0.4" stroke-linejoin="round" opacity="0.88">V</text>
<text transform="translate(261.10,356.20) rotate(-90) scale(1.1429,1) translate(-2,0)" font-family='"DejaVu Sans", "Liberation Sans", sans-serif' font-size="16.74" font-weight="normal" fill="#ebebee" stroke="#ebebee" stroke-width="0.3" stroke-linejoin="round" opacity="0.85">1</text>
<text transform="translate(280.90,361.70) rotate(-90) scale(0.7958,1) translate(-2,0)" font-family='"DejaVu Sans", "Liberation Sans", sans-serif' font-size="17.01" font-weight="normal" fill="#ebebee" stroke="#ebebee" stroke-width="0.3" stroke-linejoin="round" opacity="0.85">+V</text>
<text transform="translate(495.90,356.20) rotate(-90) scale(1.1429,1) translate(-2,0)" font-family='"DejaVu Sans", "Liberation Sans", sans-serif' font-size="16.74" font-weight="normal" fill="#ebebee" stroke="#ebebee" stroke-width="0.3" stroke-linejoin="round" opacity="0.85">1</text>
<text transform="translate(515.70,361.70) rotate(-90) scale(0.7958,1) translate(-2,0)" font-family='"DejaVu Sans", "Liberation Sans", sans-serif' font-size="17.01" font-weight="normal" fill="#ebebee" stroke="#ebebee" stroke-width="0.3" stroke-linejoin="round" opacity="0.85">+V</text>
<text transform="translate(220,359) rotate(-90)" font-family='"Liberation Sans", "DejaVu Sans", sans-serif' font-size="3.2" fill="#b0b0a0">D1</text>
<text transform="translate(544,359) rotate(-90)" font-family='"Liberation Sans", "DejaVu Sans", sans-serif' font-size="3.2" fill="#b0b0a0">R1</text>
<g stroke="#5fa1f8" stroke-width="2" fill="none" stroke-linecap="butt" stroke-linejoin="miter">
<path d="M227,155H100 M227,541H100 M110.3,155V541 M100.8,172.6L110.3,155.4L119.8,172.6 M100.8,523.4L110.3,540.6L119.8,523.4"/>
<path d="M518,211H682.5 M518,485H682.5 M672,211V485 M662.4,228.6L672,211.4L681.6,228.6 M662.4,467.4L672,484.6L681.6,467.4"/>
</g>
<text transform="translate(100.60,420.30) rotate(-90) scale(1.0000,1) translate(-1,0)" font-family='"Liberation Sans", "DejaVu Sans", sans-serif' font-size="25.44" font-weight="normal" fill="#5fa1f8" letter-spacing="0.211" word-spacing="4.5">25.0000 mm</text>
<text transform="translate(662.50,420.30) rotate(-90) scale(1.0000,1) translate(-2,0)" font-family='"Liberation Sans", "DejaVu Sans", sans-serif' font-size="24.71" font-weight="normal" fill="#5fa1f8" letter-spacing="0.700" word-spacing="4.5">17.8000 mm</text>
<circle cx="243.0" cy="211.0" r="46.5" fill="#2b2f30" stroke="#c4649c" stroke-width="1.1"/>
<circle cx="243.0" cy="211.0" r="45.3" fill="none" stroke="#e86410" stroke-width="1.2"/>
<circle cx="243.0" cy="211.0" r="43.4" fill="none" stroke="#9ae69a" stroke-width="1"/>
<circle cx="243.0" cy="211.0" r="42.95" fill="#e86410"/>
<circle cx="243.0" cy="211.0" r="24.9" fill="#2b2f30"/>
<text transform="translate(232.60,225.70) scale(0.9909,1) translate(-5,0)" font-family='"DejaVu Sans", "Liberation Sans", sans-serif' font-size="49.93" font-weight="normal" fill="#dadada" stroke="#dadada" stroke-width="0.5" stroke-linejoin="round">1</text>
<circle cx="518.0" cy="211.0" r="46.5" fill="#2b2f30" stroke="#c4649c" stroke-width="1.1"/>
<circle cx="518.0" cy="211.0" r="45.3" fill="none" stroke="#e86410" stroke-width="1.2"/>
<circle cx="518.0" cy="211.0" r="43.4" fill="none" stroke="#9ae69a" stroke-width="1"/>
<circle cx="518.0" cy="211.0" r="42.95" fill="#e86410"/>
<circle cx="518.0" cy="211.0" r="24.9" fill="#2b2f30"/>
<text transform="translate(507.60,225.70) scale(0.9909,1) translate(-5,0)" font-family='"DejaVu Sans", "Liberation Sans", sans-serif' font-size="49.93" font-weight="normal" fill="#dadada" stroke="#dadada" stroke-width="0.5" stroke-linejoin="round">1</text>
<circle cx="243.0" cy="485.2" r="46.5" fill="#2b2f30" stroke="#c4649c" stroke-width="1.1"/>
<circle cx="243.0" cy="485.2" r="45.3" fill="none" stroke="#e86410" stroke-width="1.2"/>
<circle cx="243.0" cy="485.2" r="43.4" fill="none" stroke="#9ae69a" stroke-width="1"/>
<circle cx="243.0" cy="485.2" r="42.95" fill="#e86410"/>
<circle cx="243.0" cy="485.2" r="24.9" fill="#2b2f30"/>
<text transform="translate(232.60,499.90) scale(0.9909,1) translate(-5,0)" font-family='"DejaVu Sans", "Liberation Sans", sans-serif' font-size="49.93" font-weight="normal" fill="#dadada" stroke="#dadada" stroke-width="0.5" stroke-linejoin="round">1</text>
<circle cx="518.0" cy="485.2" r="46.5" fill="#2b2f30" stroke="#c4649c" stroke-width="1.1"/>
<circle cx="518.0" cy="485.2" r="45.3" fill="none" stroke="#e86410" stroke-width="1.2"/>
<circle cx="518.0" cy="485.2" r="43.4" fill="none" stroke="#9ae69a" stroke-width="1"/>
<circle cx="518.0" cy="485.2" r="42.95" fill="#e86410"/>
<circle cx="518.0" cy="485.2" r="24.9" fill="#2b2f30"/>
<text transform="translate(507.60,499.90) scale(0.9909,1) translate(-5,0)" font-family='"DejaVu Sans", "Liberation Sans", sans-serif' font-size="49.93" font-weight="normal" fill="#dadada" stroke="#dadada" stroke-width="0.5" stroke-linejoin="round">1</text>
<rect x="187.5" y="154.5" width="386.0" height="386.0" rx="38.6" fill="none" stroke="#fbc42e" stroke-width="1.4"/>
</svg>
</body></html>
